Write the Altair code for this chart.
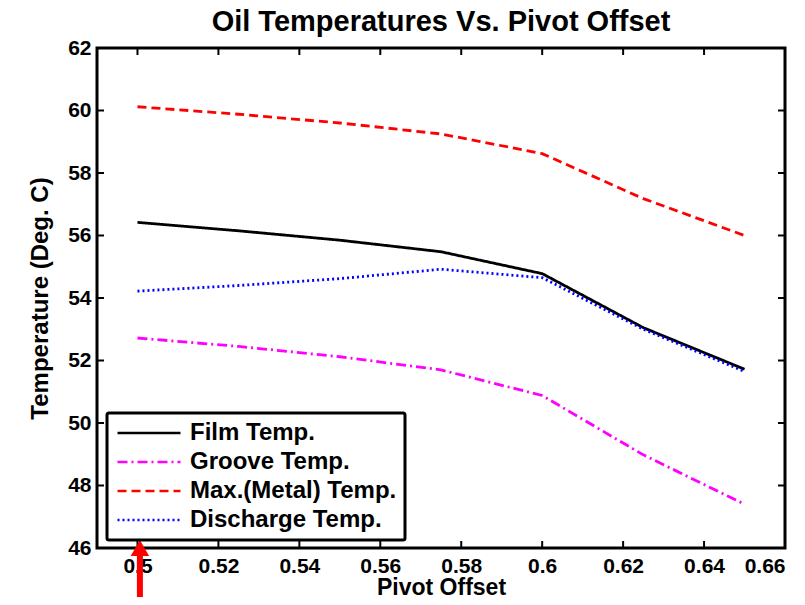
import altair as alt
import pandas as pd

# ---- data ----
offsets = [0.5, 0.525, 0.55, 0.575, 0.6, 0.625, 0.65]
film_temp = [56.42, 56.15, 55.85, 55.48, 54.78, 53.05, 51.72]
groove_temp = [52.72, 52.45, 52.12, 51.70, 50.88, 48.98, 47.40]
max_metal_temp = [60.12, 59.88, 59.60, 59.25, 58.62, 57.18, 56.00]
discharge_temp = [54.22, 54.40, 54.62, 54.92, 54.65, 53.00, 51.65]

series_names = ["Film Temp.", "Groove Temp.", "Max.(Metal) Temp.", "Discharge Temp."]
series_values = [film_temp, groove_temp, max_metal_temp, discharge_temp]
series_colors = ["#000000", "#ff00ff", "#ff0000", "#0000ff"]
series_dashes = [[1, 0], [10, 4, 2, 4], [9, 5], [2, 3]]

x_ticks = [0.5, 0.52, 0.54, 0.56, 0.58, 0.6, 0.62, 0.64, 0.66]
y_ticks = [46, 48, 50, 52, 54, 56, 58, 60, 62]
x_domain = [0.49, 0.66]
y_domain = [46, 62]

# red annotation arrow below the first x tick
arrow_x = [0.5006]
arrow_tail = [44.0]
arrow_neck = [45.8]
arrow_head = [46.0]

FONT = "Liberation Sans"

rows = []
for name, vals in zip(series_names, series_values):
    for x, v in zip(offsets, vals):
        rows.append({"offset": x, "temp": v, "series": name})
df = pd.DataFrame(rows)

xs = alt.Scale(domain=x_domain, nice=False, zero=False)
ys = alt.Scale(domain=y_domain, nice=False, zero=False)

legend = alt.Legend(
    title=None, orient="none", legendX=10, legendY=365, direction="vertical",
    symbolType="M-3.15,0H3.15", symbolSize=400, symbolStrokeWidth=2.6, symbolOffset=22,
    labelFont=FONT, labelFontSize=24, labelFontWeight="bold", labelColor="black",
    fillColor="white", strokeColor="black", padding=8, rowPadding=5,
    labelOffset=29, cornerRadius=2, labelLimit=400,
)

lines = alt.Chart(df).mark_line(strokeWidth=2.8, clip=True).encode(
    x=alt.X("offset:Q", scale=xs, title="Pivot Offset",
            axis=alt.Axis(values=x_ticks, format=".2~f", labelPadding=7, titlePadding=0,
                          titleFontSize=23)),
    y=alt.Y("temp:Q", scale=ys, title="Temperature (Deg. C)",
            axis=alt.Axis(values=y_ticks, format="d", labelPadding=6, titlePadding=15)),
    color=alt.Color("series:N", scale=alt.Scale(domain=series_names, range=series_colors),
                    legend=legend),
    strokeDash=alt.StrokeDash("series:N", scale=alt.Scale(domain=series_names, range=series_dashes),
                              legend=legend),
)

# inward tick marks on all four sides of the frame
xt_rows = [{"offset": t, "temp": y} for t in x_ticks for y in y_domain]
yt_rows = [{"offset": x, "temp": t} for t in y_ticks for x in x_domain]
xticks_layer = alt.Chart(pd.DataFrame(xt_rows)).mark_tick(
    orient="vertical", size=14, thickness=2, color="black", clip=True, opacity=1
).encode(x=alt.X("offset:Q", scale=xs), y=alt.Y("temp:Q", scale=ys))
yticks_layer = alt.Chart(pd.DataFrame(yt_rows)).mark_tick(
    orient="horizontal", size=14, thickness=2, color="black", clip=True, opacity=1
).encode(x=alt.X("offset:Q", scale=xs), y=alt.Y("temp:Q", scale=ys))

arrow_df = pd.DataFrame({"offset": arrow_x, "temp": arrow_tail, "temp2": arrow_neck})
arrow_shaft = alt.Chart(arrow_df).mark_rule(color="#ff0000", strokeWidth=6, clip=False).encode(
    x=alt.X("offset:Q", scale=xs), y=alt.Y("temp:Q", scale=ys), y2="temp2:Q"
)
head_df = pd.DataFrame({"offset": arrow_x, "temp": arrow_head})
arrow_tip = alt.Chart(head_df).mark_point(
    shape="triangle-up", filled=True, size=340, color="#ff0000", opacity=1, clip=False
).encode(x=alt.X("offset:Q", scale=xs), y=alt.Y("temp:Q", scale=ys))

chart = alt.layer(lines, xticks_layer, yticks_layer, arrow_shaft, arrow_tip).properties(
    width=688, height=500,
    autosize=alt.AutoSizeParams(type="none"),
    padding={"left": 89, "top": 40, "right": 10, "bottom": 49},
    title=alt.Title("Oil Temperatures Vs. Pivot Offset", font=FONT, fontSize=29,
                    fontWeight="bold", color="black", anchor="middle", offset=0),
    background="white",
).configure_axis(
    labelFont=FONT, labelFontSize=21, labelFontWeight="bold", labelColor="black",
    titleFont=FONT, titleFontSize=24, titleFontWeight="bold", titleColor="black",
    domain=False, ticks=False, grid=False,
).configure_view(
    stroke="black", strokeWidth=3,
).configure_legend(
    strokeWidth=3,
)

chart.save("out.html", embed_options={"renderer": "svg", "actions": False})
